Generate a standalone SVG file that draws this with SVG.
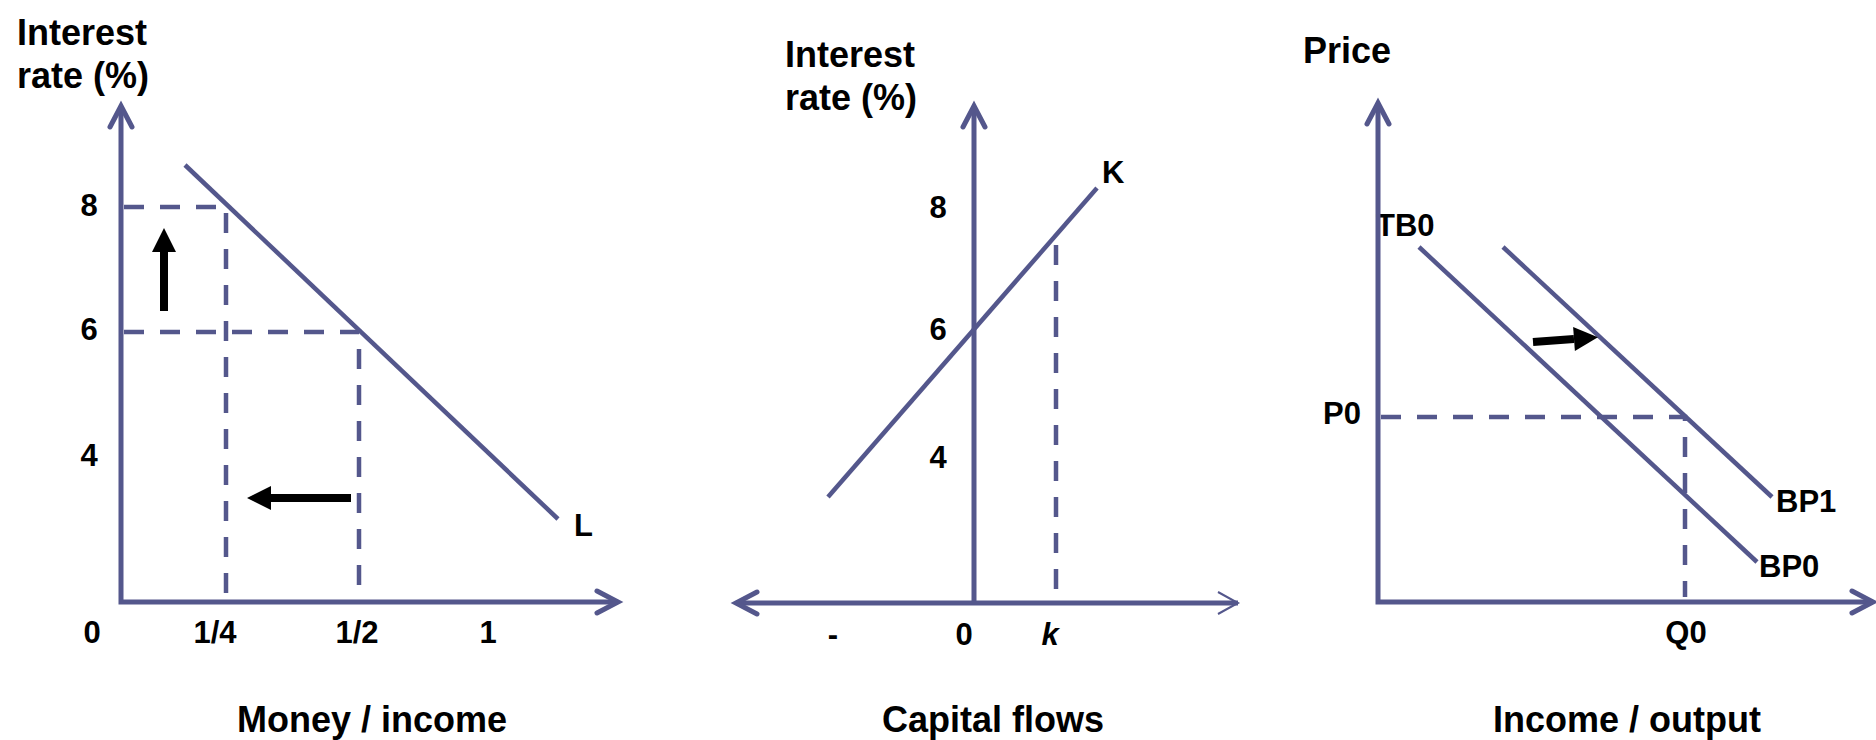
<svg xmlns="http://www.w3.org/2000/svg" width="1876" height="740" viewBox="0 0 1876 740">
<style>
.ax{stroke:#54578c;stroke-width:5;fill:none;stroke-linecap:butt}
.cv{stroke:#54578c;stroke-width:4.5;fill:none}
.ds{stroke:#54578c;stroke-width:4.5;fill:none;stroke-dasharray:20 16}
.bk{stroke:#000;stroke-width:8;fill:none}
text{font-family:"Liberation Sans",Arial,sans-serif;font-weight:bold;fill:#000}
.t{font-size:36px}
.n{font-size:31px}
.c{text-anchor:middle}
</style>
<defs>
<marker id="ah" markerUnits="userSpaceOnUse" markerWidth="40" markerHeight="40" refX="0" refY="0" viewBox="-30 -20 40 40" orient="auto-start-reverse" overflow="visible">
<path d="M-21,-11 L0,0 L-21,11" fill="none" stroke="#54578c" stroke-width="5" stroke-linecap="round" stroke-linejoin="miter"/>
</marker>
<marker id="ahThin" markerUnits="userSpaceOnUse" markerWidth="40" markerHeight="40" refX="0" refY="0" viewBox="-30 -20 40 40" orient="auto" overflow="visible">
<path d="M-20,-11 L0,0 L-20,11" fill="none" stroke="#54578c" stroke-width="2"/>
</marker>
<marker id="bh" markerUnits="userSpaceOnUse" markerWidth="30" markerHeight="30" refX="0" refY="0" viewBox="-2 -14 30 28" orient="auto" overflow="visible">
<path d="M0,-12 L24,0 L0,12 Z" fill="#000"/>
</marker>
</defs>

<g id="panel-money">
<text class="t" x="17" y="45">Interest</text>
<text class="t" x="17" y="88">rate (%)</text>
<text class="n c" x="89" y="216">8</text>
<text class="n c" x="89" y="340">6</text>
<text class="n c" x="89" y="466">4</text>
<text class="n c" x="92" y="643">0</text>
<text class="n c" x="215" y="643">1/4</text>
<text class="n c" x="357" y="643">1/2</text>
<text class="n c" x="488" y="643">1</text>
<text class="n" x="574" y="536">L</text>
<text class="t c" x="372" y="732">Money / income</text>
</g>

<g id="panel-capital">
<text class="t" x="785" y="67">Interest</text>
<text class="t" x="785" y="110">rate (%)</text>
<text class="n" x="1102" y="183">K</text>
<text class="n c" x="938" y="218">8</text>
<text class="n c" x="938" y="340">6</text>
<text class="n c" x="938" y="468">4</text>
<text class="n c" x="833" y="645">-</text>
<text class="n c" x="964" y="645">0</text>
<text class="n c" x="1050" y="645" font-style="italic">k</text>
<text class="t c" x="993" y="732">Capital flows</text>
</g>

<g id="panel-income">
<text class="t" x="1303" y="63">Price</text>
<text class="n" x="1376" y="236">TB0</text>
<text class="n" x="1361" y="424" text-anchor="end">P0</text>
<text class="n" x="1776" y="512">BP1</text>
<text class="n" x="1759" y="577">BP0</text>
<text class="n c" x="1686" y="643">Q0</text>
<text class="t c" x="1627" y="732">Income / output</text>
</g>

<g id="connectors">
<!-- panel 1 -->
<polyline class="ax" points="121,106 121,602 618,602" marker-start="url(#ah)" marker-end="url(#ah)"/>
<line class="cv" x1="185" y1="165" x2="558" y2="519"/>
<polyline class="ds" points="124,207 226,207 226,600"/>
<polyline class="ds" points="124,332 359,332 359,600"/>
<line class="bk" x1="164" y1="311" x2="164" y2="252" marker-end="url(#bh)"/>
<line class="bk" x1="351" y1="498" x2="271" y2="498" marker-end="url(#bh)"/>
<!-- panel 2 -->
<line class="ax" x1="974" y1="106" x2="974" y2="603" marker-start="url(#ah)"/>
<line class="ax" x1="736" y1="603" x2="1238" y2="603" marker-start="url(#ah)" marker-end="url(#ahThin)"/>
<line class="cv" x1="828" y1="497" x2="1097" y2="188"/>
<line class="ds" x1="1056" y1="245" x2="1056" y2="600"/>
<!-- panel 3 -->
<polyline class="ax" points="1378,103 1378,602 1873,602" marker-start="url(#ah)" marker-end="url(#ah)"/>
<line class="cv" x1="1419" y1="247" x2="1757" y2="562"/>
<line class="cv" x1="1503" y1="247" x2="1772" y2="497"/>
<polyline class="ds" points="1381,417 1685,417 1685,597"/>
<line class="bk" x1="1533" y1="342" x2="1574" y2="339" marker-end="url(#bh)"/>
</g>
</svg>
